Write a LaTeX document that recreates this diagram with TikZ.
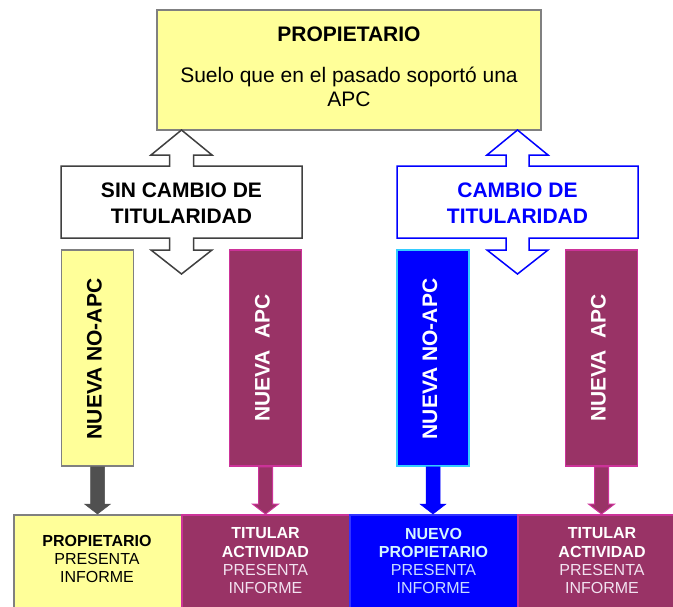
\documentclass[tikz,border=0pt]{standalone}
\usepackage{fontspec}
\setmainfont{Liberation Sans}
\usetikzlibrary{calc}
\definecolor{yel}{HTML}{FFFF99}
\definecolor{grayb}{HTML}{808080}
\definecolor{mag}{HTML}{993366}
\definecolor{pinkb}{HTML}{CC3399}
\definecolor{blu}{HTML}{0000FF}
\definecolor{cyanb}{HTML}{33CCFF}
\definecolor{darkarrow}{HTML}{505050}
\definecolor{outl}{HTML}{404040}
\definecolor{lpink}{HTML}{F2E2F0}
\definecolor{lcyan}{HTML}{D4F6FF}
\definecolor{lblue}{HTML}{C8DCFF}
\newcommand\blockdown[3]{%
  \draw[#3] let \p1=(#1.south), \p2=(#2.north) in
    (\x1-7pt,\y1) -- (\x1-7pt,\y2+10pt) -- (\x1-13pt,\y2+10pt) -- (\x1,\y2)
    -- (\x1+13pt,\y2+10pt) -- (\x1+7pt,\y2+10pt) -- (\x1+7pt,\y1) -- cycle;}
\tikzset{
  big/.style={font=\fontsize{21}{26}\selectfont\bfseries, align=center, inner sep=0pt},
  vbox/.style={draw, line width=1.5pt, minimum width=72pt, minimum height=216pt, inner sep=0pt},
  bbox/.style={draw, line width=1.5pt, minimum height=96pt, inner sep=0pt, anchor=north west},
  btext/.style={font=\fontsize{16}{18.3}\selectfont, align=center, inner sep=0pt},
  vtext/.style={font=\fontsize{21}{26}\selectfont\bfseries, rotate=90, inner sep=0pt},
}
\begin{document}
\begin{tikzpicture}[x=1pt,y=-1pt]
\useasboundingbox (0,0) rectangle (673,606);
\clip (0,0) rectangle (673,606);
\fill[white] (0,0) rectangle (673,606);
% top box
\node[draw=grayb, fill=yel, line width=2pt, minimum width=384pt, minimum height=120pt, inner sep=0pt] (top) at (349,70) {};
\node[font=\fontsize{21}{24}\selectfont\bfseries, anchor=base, inner sep=0pt] (t1) at (349,41) {PROPIETARIO};
\node[font=\fontsize{21}{24}\selectfont, anchor=base, inner sep=0pt] (t2) at (349,82) {Suelo que en el pasado soportó una};
\node[font=\fontsize{21}{24}\selectfont, anchor=base, inner sep=0pt] (t3) at (349,106) {APC};
% left callout double arrow
\draw[outl, fill=white, line width=1.5pt, line join=miter]
  (181.5,130) -- (212,155) -- (193.5,155) -- (193.5,166) -- (302,166) -- (302,238) -- (193.5,238) -- (193.5,250) -- (212,250) -- (181.5,274)
  -- (151,250) -- (169.5,250) -- (169.5,238) -- (61,238) -- (61,166) -- (169.5,166) -- (169.5,155) -- (151,155) -- cycle;
\node[big] (sin) at (181.5,203.5) {SIN CAMBIO DE\\TITULARIDAD};
% right callout double arrow
\draw[blu, fill=white, line width=1.5pt, line join=miter]
  (517.5,130) -- (548,155) -- (529,155) -- (529,166) -- (638,166) -- (638,238) -- (529,238) -- (529,250) -- (548,250) -- (517.5,274)
  -- (487,250) -- (506,250) -- (506,238) -- (397,238) -- (397,166) -- (506,166) -- (506,155) -- (487,155) -- cycle;
\node[big, text=blu] (con) at (517.5,203.5) {CAMBIO DE\\TITULARIDAD};
% vertical boxes
\node[vbox, draw=grayb, fill=yel] (v1) at (97.5,358) {};
\node[vtext] (v1t) at (94.5,359) {NUEVA NO-APC};
\node[vbox, draw=pinkb, fill=mag] (v2) at (265.5,358) {};
\node[vtext, text=white] (v2t) at (262.5,358) {NUEVA\ \ APC};
\node[vbox, draw=cyanb, fill=blu] (v3) at (433,358) {};
\node[vtext, text=white] (v3t) at (430,359) {NUEVA NO-APC};
\node[vbox, draw=pinkb, fill=mag] (v4) at (601.5,358) {};
\node[vtext, text=white] (v4t) at (598.5,358) {NUEVA\ \ APC};
% bottom boxes
\node[bbox, draw=grayb, fill=yel, minimum width=168pt] (b1) at (13,514) {};
\node[bbox, draw=pinkb, fill=mag, minimum width=168pt] (b2) at (181,514) {};
\node[bbox, draw=blu!80!white, fill=blu, minimum width=168pt] (b3) at (349,514) {};
\node[bbox, draw=pinkb, fill=mag, minimum width=170pt] (b4) at (517,514) {};
\node[btext] (b1t) at (97,559) {\textbf{PROPIETARIO}\\PRESENTA\\INFORME};
\node[btext, text=lpink] (b2t) at (265.5,561) {\textcolor{white}{\textbf{TITULAR}}\\\textcolor{white}{\textbf{ACTIVIDAD}}\\PRESENTA\\INFORME};
\node[btext, text=lblue] (b3t) at (433.5,561) {\textcolor{lcyan}{\textbf{NUEVO}}\\\textcolor{lcyan}{\textbf{PROPIETARIO}}\\PRESENTA\\INFORME};
\node[btext, text=lpink] (b4t) at (602,561) {\textcolor{white}{\textbf{TITULAR}}\\\textcolor{white}{\textbf{ACTIVIDAD}}\\PRESENTA\\INFORME};
% down block arrows
\blockdown{v1}{b1}{fill=darkarrow, draw=darkarrow, line width=0.5pt}
\blockdown{v2}{b2}{fill=mag, draw=pinkb, line width=1pt}
\blockdown{v3}{b3}{fill=blu, draw=blu, line width=0.5pt}
\blockdown{v4}{b4}{fill=mag, draw=pinkb, line width=1pt}
\end{tikzpicture}
\end{document}
